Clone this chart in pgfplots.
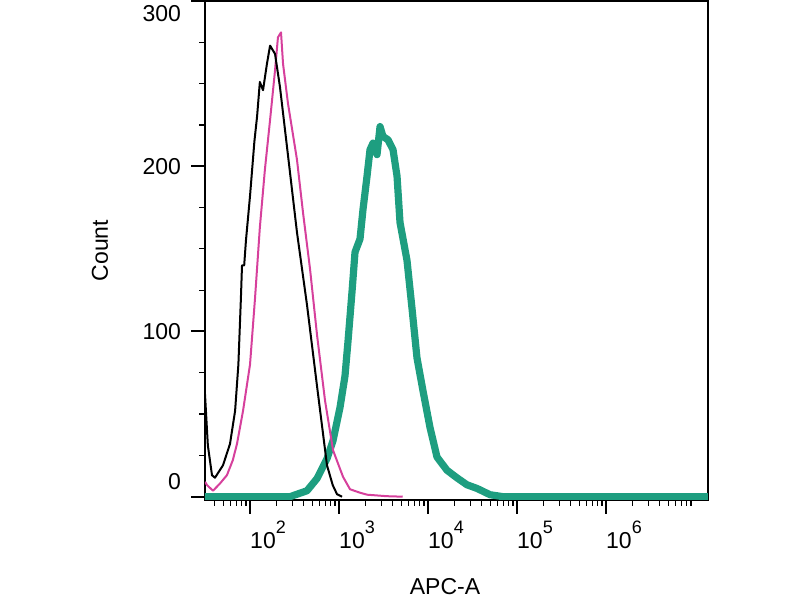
\documentclass[border=0pt]{standalone}
\usepackage{pgfplots}
\pgfplotsset{compat=1.18}
\usepackage{fontspec}
\setmainfont{Liberation Sans}
\definecolor{flowpink}{HTML}{D6409C}
\definecolor{flowteal}{HTML}{1E9E80}
\newcommand{\lab}{\fontsize{11.5}{13}\selectfont}
\newcommand{\shiftlab}[2]{\smash{\raisebox{#1}{#2}}}
\newcommand{\dec}[1]{10\raisebox{7.3pt}{\fontsize{9}{10}\selectfont #1}}
\begin{document}
\begin{tikzpicture}
% page frame: the axis box sits at (0,0)-(251.5pt,249.5pt)
\useasboundingbox (-102.5pt,-50pt) rectangle (297.5pt,250pt);
\begin{axis}[
    name=ax,
    at={(0,0)}, anchor=south west,
    scale only axis,
    width=251.5pt, height=249.5pt,
    xmode=log,
    xmin=31.2, xmax=1.4e7,
    ymin=-2, ymax=300,
    xtick={100,1000,10000,100000,1000000},
    xticklabels={\dec{2},\dec{3},\dec{4},\dec{5},\dec{6}},
    minor xtick={40,50,60,70,80,90,
        200,300,400,500,600,700,800,900,
        2000,3000,4000,5000,6000,7000,8000,9000,
        20000,30000,40000,50000,60000,70000,80000,90000,
        200000,300000,400000,500000,600000,700000,800000,900000,
        2000000,3000000,4000000,5000000,6000000,7000000,8000000,9000000},
    ytick={0,100,200,300},
    yticklabels={\shiftlab{3.4pt}{0},100,200,\shiftlab{-10.1pt}{300}},
    minor y tick num=3,
    tick align=outside,
    xtick pos=bottom, ytick pos=left,
    major tick length=7pt, minor tick length=3pt,
    major tick style={line width=1pt, black},
    minor tick style={line width=0.6pt, black},
    axis line style={line width=1pt},
    /pgf/number format/assume math mode=true,
    every tick label/.append style={font=\lab},
    xticklabel style={xshift=9pt},
    yticklabel style={xshift=-1.5pt},
    every axis y label/.style={at={(axis description cs:0,0.5)}, xshift=-52.5pt, rotate=90, anchor=center, font=\lab},
    every axis x label/.style={at={(axis description cs:0.5,0)}, yshift=-43.5pt, xshift=-5.75pt, anchor=center, font=\lab},
    xlabel={APC-A},
    ylabel={Count},
]
% stained sample
\addplot[flowteal, line width=3.6pt, line join=round] coordinates {
    (31.2,0) (206,0) (281,0) (437,3.6) (566,11) (733,23) (857,34) (1026,54)
    (1167,73) (1262,94) (1400,124) (1513,148) (1722,156) (1862,174) (2065,194)
    (2230,210) (2412,214) (2674,207) (2891,224) (3120,218) (3553,216) (4046,210)
    (4487,194) (4845,166) (5808,143) (6610,114) (7520,84) (8790,64) (10520,42)
    (12620,24) (16330,16) (21170,11.4) (27400,7.2) (35530,5) (49770,1.2)
    (69600,0) (1.4e7,0)
};
% isotype control
\addplot[flowpink, line width=1pt, line join=round] coordinates {
    (31.2,9) (32.9,7) (38.4,3.6) (46,8) (55,13) (64,22) (71.4,32) (83.5,52)
    (100,80) (113.8,120) (129,163) (147,198) (168,228) (191,258) (206,278)
    (223,281) (235,262) (267,238) (337,204) (394,172) (472,138) (566,98)
    (697,58) (858,28) (1110,12) (1330,4.5) (1700,2.5) (2070,1.2) (3450,0.3) (5200,0)
};
% unstained
\addplot[black, line width=1pt, line join=round] coordinates {
    (31.2,62) (33.6,31) (37.4,13) (40.4,11.5) (49.7,19) (59.6,32) (68,52)
    (74,80) (79,120) (81.3,140) (86,140) (90,155) (100,182) (112,215) (120,230)
    (129,251) (140,246) (155,262) (168,273) (191,268) (217,248) (260,212)
    (337,160) (437,116) (566,67) (733,19) (850,7) (950,1.5) (1082,0)
};
\end{axis}
\end{tikzpicture}
\end{document}
